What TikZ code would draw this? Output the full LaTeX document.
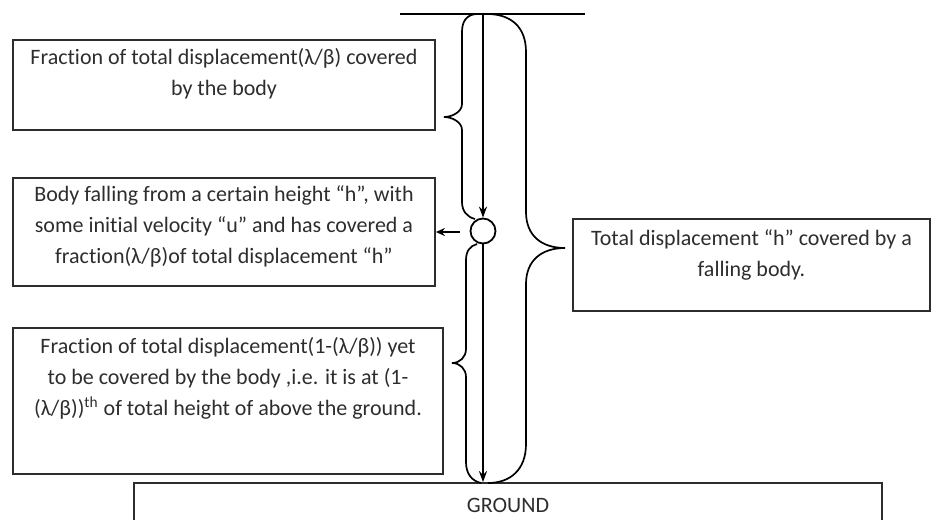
\documentclass[tikz,border=0pt]{standalone}
\usepackage{fontspec}
\setmainfont{Carlito}[Ligatures=NoCommon]
\usetikzlibrary{arrows.meta,positioning}
\definecolor{inkGray}{RGB}{45,45,45}

\begin{document}
\begin{tikzpicture}[x=0.5pt,y=-0.5pt,
  infobox/.style={draw=inkGray,line width=0.9pt,inner sep=0pt},
  boxtext/.style={align=center,inner sep=0pt,text=inkGray,font=\fontsize{11}{15.5}\selectfont},
  brace/.style={line width=0.85pt},
  fall/.style={line width=1pt,-{Stealth[length=5.5pt,width=4pt]}}]
  \useasboundingbox (0,0) rectangle (933,520);
  % top level and ground
  \coordinate (topL) at (400,14);
  \coordinate (topR) at (585,14);
  \draw[line width=0.9pt] (topL) -- (topR);
  \node[infobox,boxtext,minimum width=374pt,minimum height=22pt] (ground) at (508,505) {GROUND};
  % text boxes on the left
  \node[infobox,minimum width=211pt,minimum height=45pt] (covered) at (224,85) {};
  \node[boxtext,below=4.5pt of covered.north] (coveredTxt)
    {Fraction of total displacement(λ/β) covered\\ by the body};
  \node[infobox,minimum width=211pt,minimum height=54pt] (falling) at (224,232) {};
  \node[boxtext,below=4pt of falling.north] (fallingTxt)
    {Body falling from a certain height “h”, with\\ some initial velocity “u” and has covered a\\ fraction(λ/β)of total displacement “h”};
  \node[infobox,minimum width=215pt,minimum height=73pt] (remain) at (228,401) {};
  \node[boxtext,below=5pt of remain.north] (remainTxt)
    {Fraction of total displacement(1-(λ/β)) yet\\ to be covered by the body ,i.e. it is at (1-\\ (λ/β))\textsuperscript{th} of total height of above the ground.};
  % box on the right
  \node[infobox,minimum width=178.5pt,minimum height=46pt] (total) at (751.5,265) {};
  \node[boxtext,below=5.5pt of total.north] (totalTxt)
    {Total displacement “h” covered by a\\ falling body.};
  % the body and its path
  \node[circle,draw,line width=0.9pt,minimum size=12.5pt,inner sep=0pt] (body) at (483,231) {};
  \coordinate (start) at (483,14);
  \draw[fall] (start) -- (body.north);
  \draw[fall] (body.south) -- (body.south |- ground.north);
  \coordinate (pointer) at (460,232);
  \draw[line width=1pt,-{Stealth[length=4.5pt,width=4pt]}] (pointer) -- (pointer -| falling.east);
  % braces
  \draw[brace] (476,14) .. controls (466,15) and (462,22) .. (462,32) -- (462,104)
    .. controls (462,112) and (452,117) .. (444,117)
    .. controls (452,117) and (462,122) .. (462,130) -- (462,202)
    .. controls (462,211) and (467,217) .. (475,219);
  \draw[brace] (477,244) .. controls (470,246) and (466,251) .. (466,260) -- (466,349)
    .. controls (466,357) and (460,363) .. (452,363)
    .. controls (460,363) and (466,369) .. (466,377) -- (466,462)
    .. controls (466,474) and (472,481) .. (481,483);
  \draw[brace] (487,14) .. controls (510,14) and (526,26) .. (526,52) -- (526,212)
    .. controls (526,236) and (542,248) .. (565,248)
    .. controls (542,248) and (526,260) .. (526,284) -- (526,444)
    .. controls (526,470) and (510,483) .. (488,483);
\end{tikzpicture}
\end{document}
